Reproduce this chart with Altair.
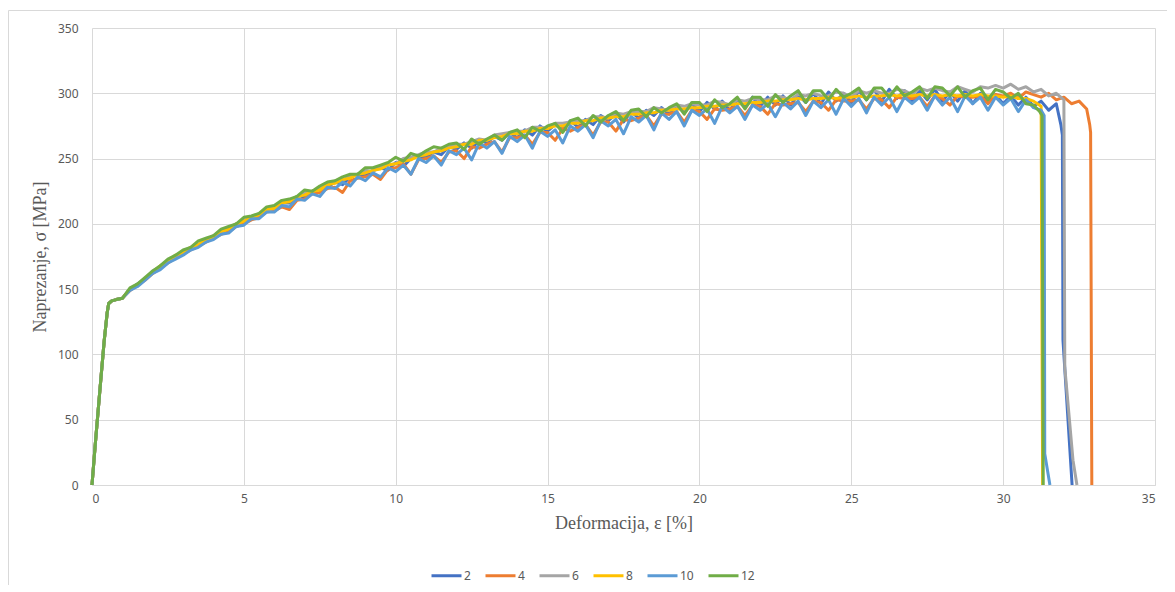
import altair as alt
import pandas as pd

SERIES = ["2", "4", "6", "8", "10", "12"]
COLORS = ["#4472C4", "#ED7D31", "#A5A5A5", "#FFC000", "#5B9BD5", "#70AD47"]

X_TICKS = [0, 5, 10, 15, 20, 25, 30, 35]
Y_TICKS = [0, 50, 100, 150, 200, 250, 300, 350]

# shared elastic part
HEAD_X = [0, 0.1, 0.25, 0.4, 0.5, 0.55, 0.65, 0.8]
HEAD_Y = [0, 29, 70, 110, 132, 139, 141, 142]

# sampled stress values from strain 1.0 upward, every 0.25 %
GRID_START = 1.0
GRID_STEP = 0.25

S2 = [143, 150, 154, 158, 163, 167, 172, 175, 179, 181, 184, 188, 190, 194, 196, 200,
      201, 205, 207, 211, 212, 216, 216, 221, 221, 225, 227, 228, 232, 230, 236, 238,
      237, 241, 243, 241, 247, 244, 250, 252, 251, 255, 253, 259, 257, 262, 258, 264,
      262, 267, 264, 270, 266, 272, 268, 275, 271, 276, 273, 279, 274, 280, 276, 283,
      279, 284, 278, 286, 281, 287, 283, 289, 284, 291, 285, 292, 286, 293, 288, 294,
      287, 295, 289, 297, 290, 297, 291, 298, 291, 299, 293, 300, 292, 301, 294, 300,
      293, 302, 295, 303, 294, 303, 296, 302, 293, 302, 295, 303, 294, 301, 294, 302,
      292, 300, 293, 299, 292, 298, 291, 297, 290, 294, 287, 292]
S2_TAIL_X = [31.9, 31.95, 31.97, 32.27]
S2_TAIL_Y = [276, 268, 111, 0]

S4 = [143, 149, 153, 157, 162, 166, 170, 174, 177, 180, 183, 186, 189, 192, 194, 198,
      200, 203, 205, 209, 210, 213, 211, 218, 219, 223, 224, 227, 228, 224, 233, 235,
      236, 238, 234, 242, 243, 246, 238, 249, 250, 252, 247, 255, 256, 250, 259, 258,
      261, 263, 255, 266, 266, 268, 261, 270, 270, 264, 273, 271, 274, 276, 268, 278,
      278, 271, 280, 279, 281, 283, 275, 284, 284, 286, 278, 287, 286, 280, 288, 287,
      288, 290, 283, 291, 290, 284, 292, 291, 292, 293, 286, 294, 293, 287, 295, 294,
      294, 295, 288, 296, 295, 289, 297, 296, 296, 297, 290, 298, 296, 291, 298, 297,
      297, 298, 292, 299, 298, 300, 296, 301, 299, 297, 300, 295, 297, 292, 294, 288]
S4_TAIL_X = [32.85, 32.88, 32.92]
S4_TAIL_Y = [276, 270, 0]

S6 = [143, 150, 153, 158, 164, 167, 172, 175, 179, 182, 184, 188, 191, 193, 197, 199,
      203, 204, 208, 210, 212, 216, 218, 219, 224, 225, 227, 230, 232, 233, 237, 238,
      241, 240, 244, 245, 246, 250, 251, 253, 255, 255, 258, 259, 261, 261, 263, 265,
      264, 268, 269, 270, 271, 271, 274, 274, 273, 277, 277, 278, 279, 279, 282, 282,
      281, 285, 284, 286, 286, 286, 289, 288, 287, 291, 290, 292, 291, 291, 294, 293,
      291, 295, 294, 296, 295, 295, 298, 297, 295, 299, 298, 300, 298, 298, 301, 300,
      297, 302, 300, 302, 300, 300, 303, 302, 299, 304, 302, 304, 302, 301, 305, 303,
      301, 305, 304, 306, 304, 307, 303, 305, 301, 303, 298, 300]
S6_TAIL_X = [32.0, 32.03, 32.3, 32.43]
S6_TAIL_Y = [295, 90, 19, 0]

S8 = [143, 150, 153, 158, 163, 168, 171, 176, 178, 182, 184, 188, 190, 194, 196, 200,
      202, 205, 207, 211, 212, 216, 217, 221, 222, 225, 226, 230, 231, 234, 235, 238,
      239, 241, 242, 245, 246, 248, 249, 252, 253, 255, 256, 258, 259, 261, 261, 264,
      264, 266, 267, 269, 269, 271, 271, 273, 273, 275, 275, 277, 277, 279, 279, 281,
      281, 282, 282, 284, 284, 285, 285, 287, 287, 288, 288, 289, 289, 290, 290, 291,
      291, 292, 292, 293, 293, 294, 294, 295, 295, 296, 295, 296, 296, 297, 296, 297,
      297, 298, 297, 298, 298, 299, 298, 299, 298, 299, 298, 299, 298, 299, 298, 299,
      298, 299, 298, 298, 297, 298, 296, 296, 294]
S8_TAIL_X = [31.25, 31.3]
S8_TAIL_Y = [290, 0]

S10 = [143, 149, 152, 157, 162, 165, 170, 173, 176, 180, 182, 186, 188, 192, 193, 198,
       199, 204, 204, 209, 209, 214, 213, 219, 218, 223, 221, 228, 227, 232, 229, 236,
       233, 239, 236, 243, 240, 245, 238, 250, 247, 252, 245, 256, 253, 258, 249, 262,
       258, 263, 254, 267, 263, 268, 258, 271, 267, 272, 262, 275, 271, 276, 266, 279,
       275, 280, 269, 282, 278, 283, 272, 285, 280, 286, 275, 287, 283, 288, 277, 290,
       285, 290, 280, 291, 287, 292, 282, 293, 288, 294, 283, 294, 289, 295, 284, 296,
       290, 296, 285, 297, 291, 297, 286, 297, 292, 297, 287, 298, 291, 297, 286, 298,
       292, 297, 287, 297, 291, 296, 286, 295, 289]
S10_TAIL_X = [31.25, 31.35, 31.37, 31.54]
S10_TAIL_Y = [287, 283, 24, 0]

S12 = [143, 151, 154, 159, 164, 168, 173, 176, 180, 182, 187, 189, 191, 196, 198, 200,
       205, 206, 208, 213, 214, 218, 219, 221, 226, 225, 229, 232, 233, 236, 238, 238,
       243, 243, 245, 247, 251, 248, 254, 252, 256, 259, 258, 261, 262, 257, 265, 261,
       265, 268, 264, 270, 272, 266, 274, 271, 275, 277, 270, 279, 281, 275, 283, 278,
       283, 286, 279, 287, 288, 282, 289, 285, 289, 292, 284, 293, 293, 286, 295, 289,
       292, 297, 288, 297, 297, 290, 299, 293, 298, 302, 293, 302, 302, 295, 303, 297,
       300, 304, 295, 304, 304, 297, 305, 298, 301, 305, 296, 305, 304, 298, 305, 297,
       302, 304, 295, 303, 301, 296, 300, 292, 291]
S12_TAIL_X = [31.2, 31.28, 31.3, 31.32]
S12_TAIL_Y = [286, 283, 150, 0]

GRIDS = [S2, S4, S6, S8, S10, S12]
TAILS_X = [S2_TAIL_X, S4_TAIL_X, S6_TAIL_X, S8_TAIL_X, S10_TAIL_X, S12_TAIL_X]
TAILS_Y = [S2_TAIL_Y, S4_TAIL_Y, S6_TAIL_Y, S8_TAIL_Y, S10_TAIL_Y, S12_TAIL_Y]

rows = []
for name, grid, tx, ty in zip(SERIES, GRIDS, TAILS_X, TAILS_Y):
    xs = HEAD_X + [GRID_START + k * GRID_STEP for k in range(len(grid))] + tx
    ys = HEAD_Y + grid + ty
    for i, (xv, yv) in enumerate(zip(xs, ys)):
        rows.append({"s": name, "x": xv, "y": yv, "i": i})
df = pd.DataFrame(rows)

W, H = 1063, 457
GRID_C = "#D9D9D9"
TXT = "#595959"

xenc = alt.X("x:Q", scale=alt.Scale(domain=[0, 35], nice=False),
             axis=alt.Axis(values=X_TICKS, title="Deformacija, ε [%]", labelPadding=8,
                           titlePadding=10))
yenc = alt.Y("y:Q", scale=alt.Scale(domain=[0, 350], nice=False),
             axis=alt.Axis(values=Y_TICKS, title="Naprezanje, σ [MPa]", labelPadding=14,
                           titlePadding=8, domain=False))
cenc = alt.Color("s:N", scale=alt.Scale(domain=SERIES, range=COLORS),
                 legend=alt.Legend(title=None, orient="none", direction="horizontal",
                                   legendX=338, legendY=531, symbolType="stroke",
                                   symbolSize=900, symbolStrokeWidth=3, labelOffset=1,
                                   columnPadding=8, labelFontSize=12, labelColor=TXT,
                                   labelFont="Noto Sans", padding=0))

frame = alt.Chart(pd.DataFrame({"a": [0]})).mark_rect(
    fillOpacity=0, stroke=GRID_C, strokeWidth=1
).encode(x=alt.value(-83.5), x2=alt.value(1300), y=alt.value(-17.5), y2=alt.value(800))

layers = [frame]
for name in SERIES:
    layers.append(
        alt.Chart(df).transform_filter(alt.datum.s == name)
        .mark_line(strokeWidth=3, strokeJoin="round")
        .encode(x=xenc, y=yenc, color=cenc, order="i:Q")
    )

chart = alt.layer(*layers).properties(
    width=W, height=H,
    autosize=alt.AutoSizeParams(type="none"),
    padding={"left": 84, "top": 20, "right": 12, "bottom": 100},
).configure_view(stroke=None).configure_axis(
    grid=True, gridColor=GRID_C, gridWidth=1, ticks=False,
    domainColor=GRID_C, labelColor=TXT, labelFont="Noto Sans", labelFontSize=12,
    titleColor=TXT, titleFont="Liberation Serif", titleFontSize=18, titleFontWeight="normal",
)

chart.save("out.html", embed_options={"renderer": "svg", "actions": False})
